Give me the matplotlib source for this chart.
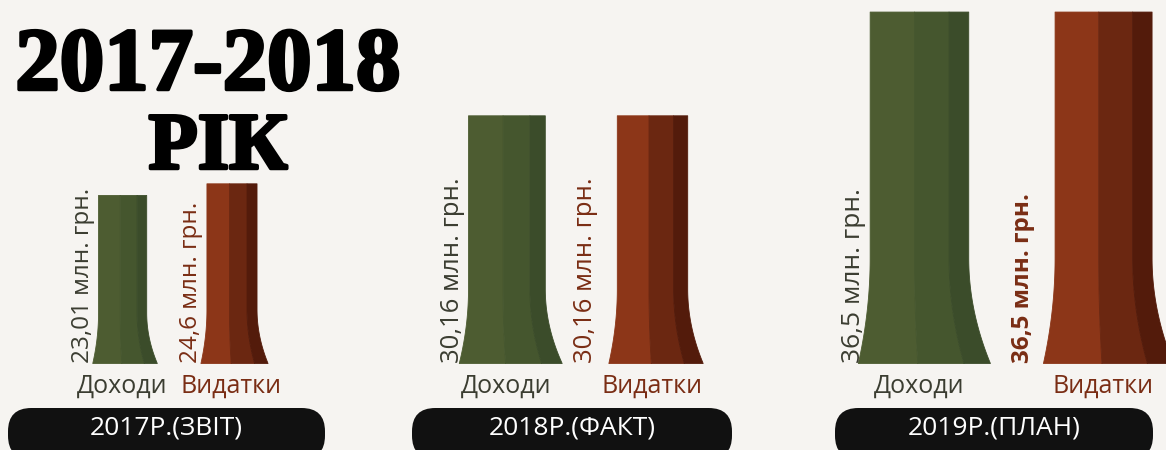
import numpy as np
import matplotlib
matplotlib.use("Agg")
import matplotlib.pyplot as plt
from matplotlib.patches import FancyBboxPatch
import matplotlib.patheffects as pe

# data
periods = ["2017Р.(ЗВІТ)", "2018Р.(ФАКТ)", "2019Р.(ПЛАН)"]
categories = ["Доходи", "Видатки"]
income = [23.01, 30.16, 36.5]
spending = [24.6, 30.16, 36.5]
income_labels = ["23,01 млн. грн.", "30,16 млн. грн.", "36,5 млн. грн."]
spending_labels = ["24,6 млн. грн.", "30,16 млн. грн.", "36,5 млн. грн."]
title_lines = ["2017-2018", "РІК"]

W, H = 1166, 450
BG = "#f6f4f1"
GREEN = ["#4d5c31", "#45562e", "#3b4c2a"]
RED = ["#8c3618", "#6b2711", "#531b0b"]
GREEN_TXT = "#3b3d31"
RED_TXT = "#7a2d14"
FONT = ["Open Sans", "DejaVu Sans"]

# panel layout in pixels: axes left/right, bar centers (fraction), bar widths (fraction), y-top of axis
panels = [
    dict(x0=8, x1=325, cen=[0.36, 0.705], wid=[0.152, 0.158], ytop=49.7, fs=17.5),
    dict(x0=412, x1=732, cen=[0.295, 0.75], wid=[0.24, 0.22], ytop=44.2, fs=18.5),
    dict(x0=835, x1=1153, cen=[0.264, 0.843], wid=[0.31, 0.305], ytop=37.7, fs=19),
]
BASE = 363  # pixel y of baseline


def flared_bar(ax, xc, w, h, colors):
    # column drawn as three vertical strips, widening near the bottom
    y = np.linspace(0, h, 200)
    t = np.clip((0.3 - y / h) / 0.3, 0, 1)
    left = xc - w / 2 - 0.12 * w * t ** 2
    right = xc + w / 2 + 0.22 * w * t ** 2
    splits = [0, 0.45, 0.8, 1.0]
    for i, c in enumerate(colors):
        a = left + (right - left) * splits[i]
        b = left + (right - left) * splits[i + 1]
        ax.fill_betweenx(y, a, b, facecolor=c, edgecolor=c, lw=0.6, clip_on=False)
    ax.bar([xc], [h], width=w, color="none", edgecolor="none")


fig = plt.figure(figsize=(W / 100, H / 100), dpi=100)
fig.patch.set_facecolor(BG)

for i, p in enumerate(panels):
    ax = fig.add_axes([p["x0"] / W, (H - BASE) / H, (p["x1"] - p["x0"]) / W, BASE / H])
    ax.set_xlim(0, 1)
    ax.set_ylim(0, p["ytop"])
    ax.axis("off")
    ax.patch.set_alpha(0)
    vals = [income[i], spending[i]]
    labs = [income_labels[i], spending_labels[i]]
    for j in range(2):
        cols = GREEN if j == 0 else RED
        flared_bar(ax, p["cen"][j], p["wid"][j], vals[j], cols)
        tc = GREEN_TXT if j == 0 else RED_TXT
        bold = (i == 2 and j == 1)
        xl = p["cen"][j] - p["wid"][j] / 2 - 0.01 - (0.05 if j == 1 and i > 0 else 0)
        ax.text(xl, 0, labs[j], rotation=90, ha="right", va="bottom",
                fontsize=p["fs"] - (1.5 if bold else 0), color=tc, family=FONT,
                fontweight="bold" if bold else "normal")
        ax.text(p["cen"][j], -p["ytop"] * 0.03, categories[j], ha="center", va="top",
                fontsize=18, color=tc, family=FONT)

    # black period box
    box = FancyBboxPatch((p["x0"] / W, -0.02), (p["x1"] - p["x0"]) / W, (H - 408) / H + 0.02,
                         boxstyle="round,pad=0,rounding_size=0.02",
                         transform=fig.transFigure, facecolor="#111111",
                         edgecolor="none", mutation_aspect=W / H)
    fig.patches.append(box)
    fig.text((p["x0"] + p["x1"]) / 2 / W, (H - 428) / H, periods[i], ha="center", va="center",
             fontsize=19, color="white", family=FONT)

fig.text(208 / W, 1 - 68 / H, title_lines[0], ha="center", va="center", fontsize=64,
         fontweight="bold", family=["Liberation Serif", "DejaVu Serif"], color="black",
         path_effects=[pe.withStroke(linewidth=2.5, foreground="black")])
fig.text(218 / W, 1 - 149 / H, title_lines[1], ha="center", va="center", fontsize=58,
         fontweight="bold", family=["Liberation Serif", "DejaVu Serif"], color="black",
         path_effects=[pe.withStroke(linewidth=2.5, foreground="black")])

fig.savefig("out.png", dpi=100, facecolor=BG)
